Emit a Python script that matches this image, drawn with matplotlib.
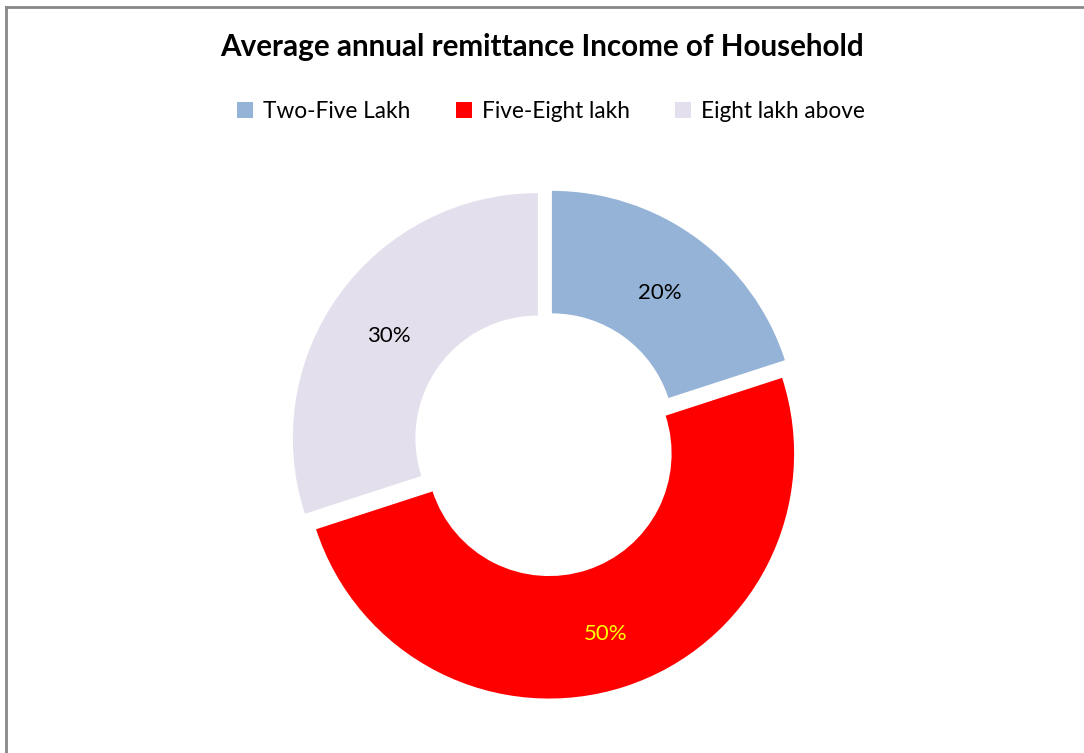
import matplotlib.pyplot as plt
from matplotlib.lines import Line2D

# data
categories = ["Two-Five Lakh", "Five-Eight lakh", "Eight lakh above"]
shares = [20, 50, 30]
colors = ["#95B3D7", "#FF0000", "#E4DFEC"]
pct_colors = ["black", "#FFFF00", "black"]
title = "Average annual remittance Income of Household"

plt.rcParams['font.family'] = ['Lato', 'DejaVu Sans']

W, H = 1084, 753
fig = plt.figure(figsize=(W / 100, H / 100), dpi=100)

# donut: centre (546, 444) px, outer radius 245 px
R = 245
cx, cy = 546, H - 444
half = 1.2 * R
ax = fig.add_axes([(cx - half) / W, (cy - half) / H, 2 * half / W, 2 * half / H])

wedges, texts, autotexts = ax.pie(
    shares, colors=colors, startangle=90, counterclock=False,
    explode=[0.041] * len(shares), radius=1,
    wedgeprops=dict(width=0.5, linewidth=0),
    autopct='%1.0f%%', pctdistance=0.75,
    textprops=dict(fontsize=16))
for t, c in zip(autotexts, pct_colors):
    t.set_color(c)
    x, y = t.get_position()
    t.set_position((x, y - 0.025))
ax.set_xlim(-1.2, 1.2)
ax.set_ylim(-1.2, 1.2)
ax.set_aspect('equal')
ax.axis('off')

fig.text(0.5, 1 - 47 / H, title, ha='center', va='center',
         fontsize=21.3, fontweight='bold')

fig.legend(wedges, categories, loc='center',
           bbox_to_anchor=(551 / W, 1 - 111 / H),
           ncol=3, frameon=False, fontsize=16.3, handlelength=0.7,
           handleheight=0.7, handletextpad=0.45, columnspacing=2.0)

# chart border (only left and top visible)
border = dict(color='#888888', linewidth=2, transform=fig.transFigure)
fig.add_artist(Line2D([5.5 / W, 5.5 / W], [0, 1 - 6.5 / H], **border))
fig.add_artist(Line2D([5.5 / W, 1], [1 - 6.5 / H, 1 - 6.5 / H], **border))

fig.savefig("out.png", dpi=100, facecolor='white')
